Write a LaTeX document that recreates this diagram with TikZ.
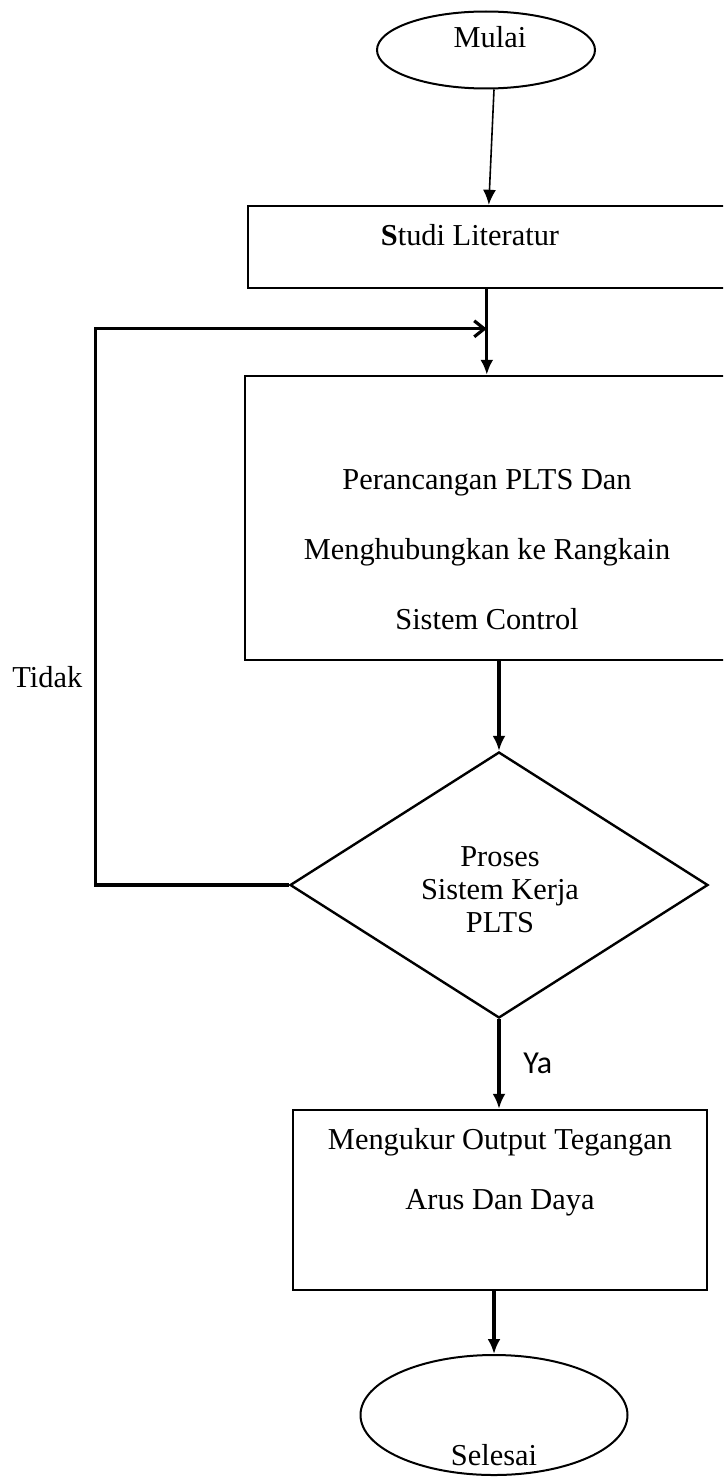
\documentclass[tikz,border=0pt]{standalone}
\usepackage{fontspec}
\setmainfont{Liberation Serif}
\newfontfamily\yafont{Carlito}
\usetikzlibrary{shapes.geometric}
\usetikzlibrary{arrows.meta}
\usetikzlibrary{calc}
\tikzset{
  flownode/.style = {inner sep=0pt, font=\fontsize{15.2}{16}\selectfont},
  terminal_node/.style = {flownode, ellipse, draw=black, line width=1pt},% mulai, selesai
  box_node/.style = {flownode, rectangle, draw=black, line width=1.2pt},% proses
  decision_node/.style = {flownode, diamond, draw=black, line width=1.2pt},% keputusan
  flowtext/.style = {flownode, anchor=base},
  flow_line/.style = {line width=1.6pt, -{Latex[length=7.5pt,width=6.5pt]}},
  back_line/.style = {line width=1.6pt, -{Straight Barb[length=5pt,width=8pt]}}
}

\begin{document}
\begin{tikzpicture}[x=0.5pt, y=-0.5pt]
  \useasboundingbox (0,0) rectangle (723,1477);
  \clip (0,0) rectangle (723,1477);
  % bentuk
  \node [terminal_node, minimum width=109pt, minimum height=38.5pt] (mulai) at (486,50) {};
  \node [box_node, minimum width=248.5pt, minimum height=41pt] (studi) at (496.5,247) {};
  \node [box_node, minimum width=250pt, minimum height=142pt] (design) at (495,518) {};
  \node [decision_node, minimum width=209pt, minimum height=133pt] (proses) at (499,885) {};
  \node [box_node, minimum width=207pt, minimum height=90pt] (ukur) at (500,1200) {};
  \node [terminal_node, minimum width=133.5pt, minimum height=60pt] (selesai) at (494,1415) {};
  % teks
  \node [flowtext] (mulai-t) at (490,48) {Mulai};
  \node [flowtext] (studi-t) at (470,245) {\textbf{S}tudi Literatur};
  \node [flowtext] (design-t1) at (487,489) {Perancangan PLTS Dan};
  \node [flowtext] (design-t2) at (487,559) {Menghubungkan ke Rangkain};
  \node [flowtext] (design-t3) at (487,629) {Sistem Control};
  \node [flowtext] (proses-t1) at (500,866) {Proses};
  \node [flowtext] (proses-t2) at (500,899) {Sistem Kerja};
  \node [flowtext] (proses-t3) at (500,932) {PLTS};
  \node [flowtext] (ukur-t1) at (500,1149) {Mengukur Output Tegangan};
  \node [flowtext] (ukur-t2) at (500,1209) {Arus Dan Daya};
  \node [flowtext] (selesai-t) at (494,1465) {Selesai};
  \node [flowtext, anchor=base west] (tidak) at (12,687) {Tidak};
  \node [flowtext, anchor=base west, font=\yafont\fontsize{16}{18}\selectfont] (ya) at (523,1073) {Ya};
  % garis
  \draw [line width=0.8pt, -{Latex[length=7.5pt,width=6.5pt]}] ($(mulai.south)+(8,0)$) -- ($(studi.north west)+(242,0)$);
  \draw [flow_line] ($(studi.south west)+(240,0)$) -- ($(design.north west)+(243,0)$);
  \draw [back_line] (proses.west) -- ++(-193,0) |- ($(design.north west)+(243,-46)$);
  \draw [flow_line] (design.south -| proses.north) -- (proses.north);
  \draw [flow_line] (proses.south) -- (proses.south |- ukur.north);
  \draw [flow_line] (ukur.south -| selesai.north) -- (selesai.north);
\end{tikzpicture}
\end{document}
